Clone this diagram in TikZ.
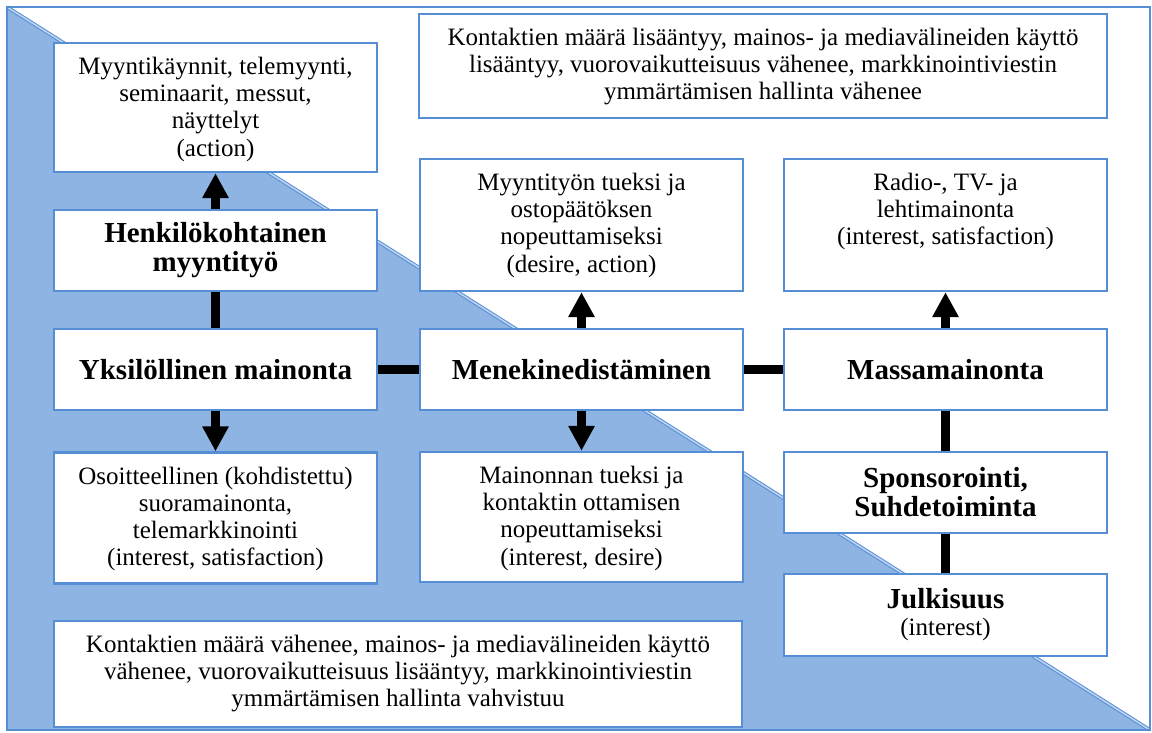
\documentclass[tikz,border=0pt]{standalone}
\usepackage{fontspec}
\setmainfont{Liberation Serif}
\usetikzlibrary{arrows.meta}
\definecolor{edgeblue}{RGB}{85,142,213}
\definecolor{fillblue}{RGB}{141,180,226}
\definecolor{gapblue}{RGB}{190,212,240}
\begin{document}
\begin{tikzpicture}[x=0.5pt,y=-0.5pt,
  box/.style={draw=edgeblue, line width=1.2pt, fill=white, inner sep=0pt,
    minimum width=161.5pt},
  txt/.style={align=center, inner sep=0pt, font=\fontsize{12.5}{13.6}\selectfont},
  toptxt/.style={txt, anchor=north, yshift=-7.5pt},
  head/.style={align=center, inner sep=0pt, font=\fontsize{14.5}{14.5}\selectfont\bfseries},
  link/.style={line width=4.5pt, black},
  arrowlink/.style={link, -{Triangle[width=12.5pt,length=12.5pt]}},
]
\useasboundingbox (0,0) rectangle (1152,733);
\fill[white] (0,0) rectangle (1152,733);
% blue lower-left half and its double diagonal edge
\fill[fillblue] (7,7) -- (7,730) -- (1150,730) -- cycle;
\draw[edgeblue, line width=0.5pt, double=gapblue, double distance=0.8pt] (7,7) -- (1150,730);
\draw[edgeblue, line width=1pt] (7,7) rectangle (1150,730);

% left column
\node[box, minimum height=64.5pt] (visits) at (215.5,107.5) {};
\node[toptxt] at (visits.north) {Myyntikäynnit, telemyynti,\\seminaarit, messut,\\näyttelyt\\(action)};
\node[box, minimum height=40.5pt, head] (personal) at (215.5,250.5) {Henkilökohtainen\\myyntityö};
\node[box, minimum height=40.5pt, head] (individual) at (215.5,369.5) {Yksilöllinen mainonta};
\node[box, minimum height=65.5pt] (direct) at (215.5,518) {};
\node[toptxt] at (direct.north) {Osoitteellinen (kohdistettu)\\suoramainonta,\\telemarkkinointi\\(interest, satisfaction)};

% middle column
\node[box, minimum height=66pt] (salesaid) at (581.5,225) {};
\node[toptxt] at (salesaid.north) {Myyntityön tueksi ja\\ostopäätöksen\\nopeuttamiseksi\\(desire, action)};
\node[box, minimum height=40.5pt, head] (promo) at (581.5,369.5) {Menekinedistäminen};
\node[box, minimum height=65pt] (adaid) at (581.5,517) {};
\node[toptxt] at (adaid.north) {Mainonnan tueksi ja\\kontaktin ottamisen\\nopeuttamiseksi\\(interest, desire)};

% right column
\node[box, minimum height=66pt] (media) at (945.5,225) {};
\node[toptxt] at (media.north) {Radio-, TV- ja\\lehtimainonta\\(interest, satisfaction)};
\node[box, minimum height=40.5pt, head] (mass) at (945.5,369.5) {Massamainonta};
\node[box, minimum height=40.5pt, head] (sponsor) at (945.5,492.5) {Sponsorointi,\\Suhdetoiminta};
\node[box, minimum height=41pt, head] (publicity) at (945.5,615)
  {Julkisuus\\[-1pt]{\fontsize{12.5}{13.6}\selectfont\mdseries (interest)}};

% wide boxes
\node[box, minimum width=344pt, minimum height=52pt] (more) at (763,66) {};
\node[toptxt] at (more.north) {Kontaktien määrä lisääntyy, mainos- ja mediavälineiden käyttö\\lisääntyy, vuorovaikutteisuus vähenee, markkinointiviestin\\ymmärtämisen hallinta vähenee};
\node[box, minimum width=344pt, minimum height=53pt] (less) at (398,674) {};
\node[toptxt] at (less.north) {Kontaktien määrä vähenee, mainos- ja mediavälineiden käyttö\\vähenee, vuorovaikutteisuus lisääntyy, markkinointiviestin\\ymmärtämisen hallinta vahvistuu};

% connectors
\draw[arrowlink] (personal.north) -- (visits.south);
\draw[link] (personal.south) -- (individual.north);
\draw[arrowlink] (individual.south) -- (direct.north);
\draw[link] (individual.east) -- (promo.west);
\draw[link] (promo.east) -- (mass.west);
\draw[arrowlink] (promo.north) -- (salesaid.south);
\draw[arrowlink] (promo.south) -- (adaid.north);
\draw[arrowlink] (mass.north) -- (media.south);
\draw[link] (sponsor.north) -- (mass.south);
\draw[link] (publicity.north) -- (sponsor.south);
\end{tikzpicture}
\end{document}
